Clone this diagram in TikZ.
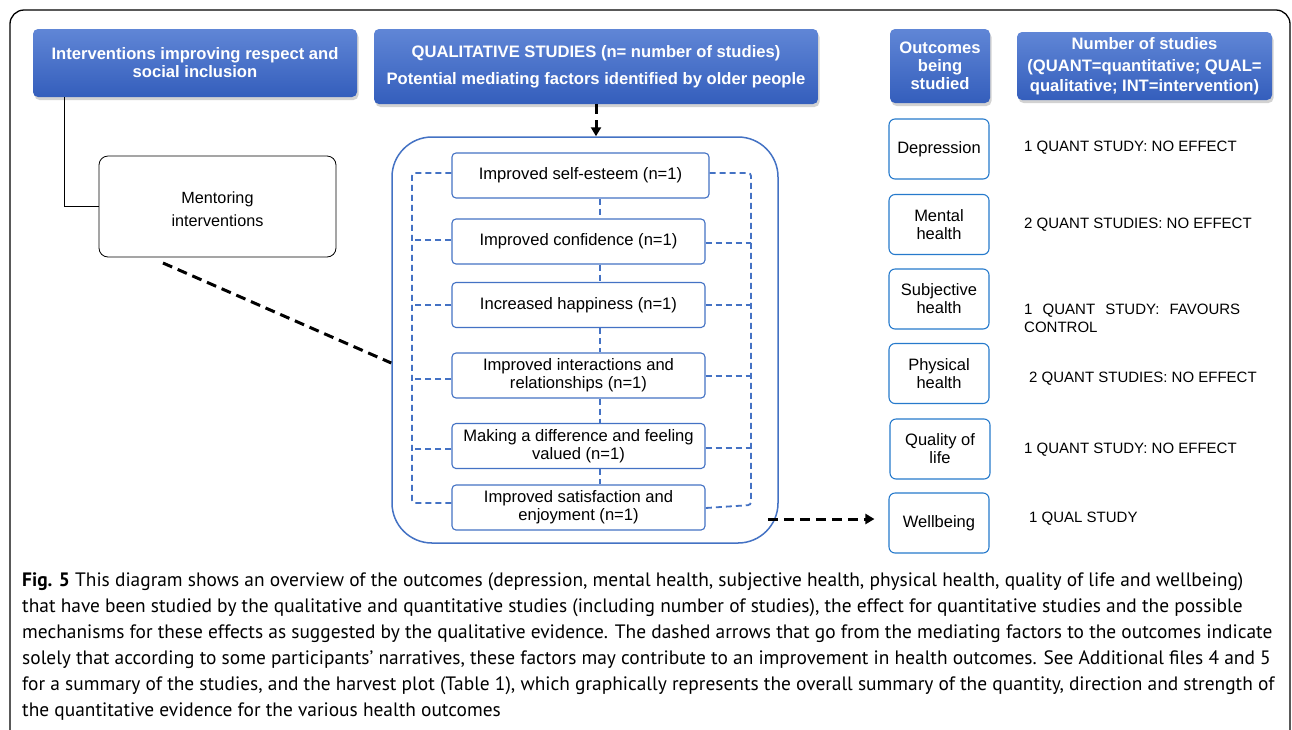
\documentclass[tikz,border=0pt]{standalone}
\usepackage{fontspec}
\setmainfont{Liberation Sans}
\newfontfamily\capfont{PT Sans}
\usetikzlibrary{shadows,arrows.meta}
\definecolor{hdtop}{RGB}{96,134,214}
\definecolor{hdbot}{RGB}{52,94,188}
\definecolor{frameblue}{RGB}{68,114,196}
\definecolor{outblue}{RGB}{38,122,204}
\tikzset{
  hdr/.style={rounded corners=5, top color=hdtop, bottom color=hdbot, draw=none,
    text=white, font=\fontsize{16.6}{18}\selectfont\bfseries, align=center,
    drop shadow={shadow xshift=1.5pt, shadow yshift=-3pt, opacity=0.35}},
  factor/.style={draw=frameblue, line width=1.1pt, rounded corners=4, fill=white,
    minimum width=253, minimum height=45, align=center, inner sep=1pt,
    font=\fontsize{16.6}{18}\selectfont},
  outbox/.style={draw=outblue, line width=1.1pt, rounded corners=6, fill=white,
    minimum width=100, minimum height=60, align=center, inner sep=1pt,
    font=\fontsize{16.5}{18}\selectfont},
  res/.style={anchor=west, font=\fontsize{15}{18}\selectfont, inner sep=0pt, align=left},
  bdash/.style={draw=frameblue, line width=1.8pt, dash pattern=on 6pt off 4pt},
  kdash/.style={draw=black, line width=3pt, dash pattern=on 10pt off 6pt},
  capline/.style={anchor=west, inner sep=0pt, font=\capfont\fontsize{19.4}{22}\selectfont}
}
\begin{document}
\begin{tikzpicture}[x=1pt,y=-1pt]
\useasboundingbox (0,0) rectangle (1292,729);
\fill[white] (0,0) rectangle (1292,729);
% outer frame
\draw[line width=1.3pt, rounded corners=14] (10,760) -- (10,10) -- (1290,10) -- (1290,760);

% headers
\node[hdr, minimum width=324, minimum height=68] (h1) at (195,63)
  {Interventions improving respect and\\social inclusion};
\node[hdr, minimum width=444, minimum height=75] (h2) at (596,66.5)
  {QUALITATIVE STUDIES (n= number of studies)\\[9pt]Potential mediating factors identified by older people};
\node[hdr, minimum width=100, minimum height=74] (h3) at (940,66)
  {Outcomes\\being\\studied};
\node[hdr, minimum width=255, minimum height=68] (h4) at (1144.5,66)
  {Number of studies\\[4pt](QUANT=quantitative; QUAL=\\[2pt]qualitative; INT=intervention)};

% mentoring
\node[draw, line width=0.8pt, rounded corners=9, minimum width=237, minimum height=101,
  align=center, font=\fontsize{16.2}{23}\selectfont] (ment) at (217.5,206.5)
  {\rule{0pt}{18pt}Mentoring\\interventions};
\draw[line width=0.9pt] ([xshift=32]h1.south west) |- (ment.west);

% big container
\node[draw=frameblue, line width=1.5pt, rounded corners=40, minimum width=386, minimum height=406] (big) at (585,340) {};

% factor boxes
\node[factor, minimum width=257] (b1) at (580.5,175.5) {Improved self-esteem (n=1)};
\node[factor] (b2) at (578.5,241.5) {Improved confidence (n=1)};
\node[factor] (b3) at (578.5,305) {Increased happiness (n=1)};
\node[factor] (b4) at (578.5,375.5) {Improved interactions and\\relationships (n=1)};
\node[factor] (b5) at (578.5,446) {Making a difference and feeling\\valued (n=1)};
\node[factor] (b6) at (578.5,507.5) {Improved satisfaction and\\enjoyment (n=1)};

\coordinate (lx) at (412,0);
\coordinate (rx) at (751,0);
\coordinate (vx) at (600,0);
% vertical links
\draw[bdash] (b1.south -| vx) -- (b2.north -| vx);
\draw[bdash] (b2.south -| vx) -- (b3.north -| vx);
\draw[bdash] (b3.south -| vx) -- (b4.north -| vx);
\draw[bdash] (b4.south -| vx) -- (b5.north -| vx);
\draw[bdash] (b5.south -| vx) -- (b6.north -| vx);
% left bracket
\draw[bdash, rounded corners=3] ([yshift=2.5]b1.west) -- ([yshift=2.5]b1.west -| lx) -- ([yshift=4.5]b6.west -| lx) -- ([yshift=4.5]b6.west);
\draw[bdash] ([yshift=1.5]b2.west) -- ([yshift=1.5]b2.west -| lx);
\draw[bdash] (b3.west) -- (b3.west -| lx);
\draw[bdash] ([yshift=-3.5]b4.west) -- ([yshift=-3.5]b4.west -| lx);
\draw[bdash] ([yshift=-3]b5.west) -- ([yshift=-3]b5.west -| lx);
% right bracket
\draw[bdash, rounded corners=3] ([yshift=2.5]b1.east) -- ([yshift=2.5]b1.east -| rx) -- ([yshift=2.5]b6.east -| rx) -- ([yshift=-0.5]b6.east);
\draw[bdash] ([yshift=-1.5]b2.east) -- ([yshift=-1.5]b2.east -| rx);
\draw[bdash] (b3.east) -- (b3.east -| rx);
\draw[bdash] ([yshift=-0.5]b4.east) -- ([yshift=-0.5]b4.east -| rx);
\draw[bdash] ([yshift=-2]b5.east) -- ([yshift=-2]b5.east -| rx);

% outcome boxes
\node[outbox] (o1) at (939,149) {Depression};
\node[outbox] (o2) at (939,224.5) {Mental\\health};
\node[outbox] (o3) at (939,299) {Subjective\\health};
\node[outbox] (o4) at (939,373.5) {Physical\\health};
\node[outbox] (o5) at (940,449) {Quality of\\life};
\node[outbox] (o6) at (939,523) {Wellbeing};

% results text
\node[res] (r1) at (1024,148) {1 QUANT STUDY: NO EFFECT};
\node[res] (r2) at (1024,225) {2 QUANT STUDIES: NO EFFECT};
\node[res, text width=216, align=justify] (r3) at (1024,318) {1 QUANT STUDY: FAVOURS CONTROL};
\node[res] (r4) at (1029,379) {2 QUANT STUDIES: NO EFFECT};
\node[res] (r5) at (1024,450) {1 QUANT STUDY: NO EFFECT};
\node[res] (r6) at (1029,519) {1 QUAL STUDY};

% black dashed connectors
\coordinate (mstart) at (163,263);
\draw[kdash] (mstart) -- (big.west |- 0,363);
\draw[kdash, -{Triangle[length=9pt,width=10pt]}] (h2.south) -- (big.north -| h2.south);
\coordinate (wa) at ([xshift=-11pt,yshift=4pt]big.east |- o6.west);
\draw[kdash, shorten >=14pt, -{Triangle[length=9pt,width=10pt]}] (wa) -- (wa -| o6.west);

% caption
\node[capline] (c1) at (22,582) {\textbf{Fig. 5} This diagram shows an overview of the outcomes (depression, mental health, subjective health, physical health, quality of life and wellbeing)};
\node[capline] (c2) at (22,608) {that have been studied by the qualitative and quantitative studies (including number of studies), the effect for quantitative studies and the possible};
\node[capline] (c3) at (22,634) {mechanisms for these effects as suggested by the qualitative evidence. The dashed arrows that go from the mediating factors to the outcomes indicate};
\node[capline] (c4) at (22,660) {solely that according to some participants’ narratives, these factors may contribute to an improvement in health outcomes. See Additional files 4 and 5};
\node[capline] (c5) at (22,686) {for a summary of the studies, and the harvest plot (Table 1), which graphically represents the overall summary of the quantity, direction and strength of};
\node[capline] (c6) at (22,712) {the quantitative evidence for the various health outcomes};
\end{tikzpicture}
\end{document}
